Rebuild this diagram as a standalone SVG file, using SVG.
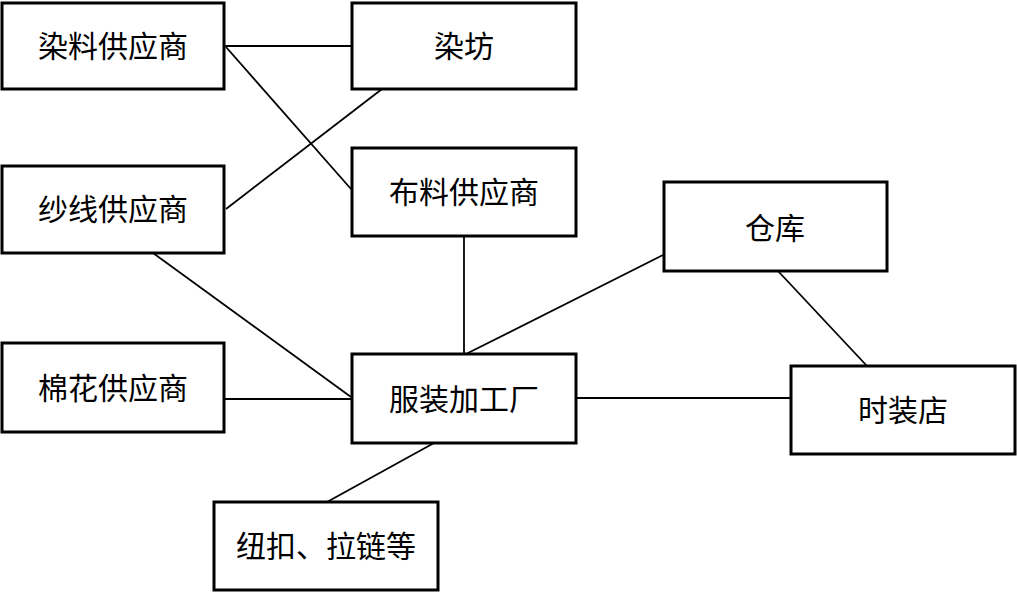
<svg xmlns="http://www.w3.org/2000/svg" width="1017" height="592" viewBox="0 0 1017 592">
<style>
.box{fill:#fff;stroke:#000;stroke-width:3}
.lbl{font-family:"Noto Sans CJK SC","Noto Sans CJK JP",sans-serif;font-size:30px;fill:#000;text-anchor:middle}
.conn line{stroke:#000;stroke-width:1.8}
</style>
<rect width="1017" height="592" fill="#fff"/>
<g id="connectors" class="conn">
<line x1="224" y1="46" x2="352" y2="46"/>
<line x1="226" y1="47" x2="351" y2="189"/>
<line x1="226" y1="209" x2="382" y2="89"/>
<line x1="464" y1="236" x2="464" y2="354"/>
<line x1="153" y1="253" x2="351" y2="397"/>
<line x1="224" y1="399" x2="352" y2="399"/>
<line x1="466" y1="354" x2="663" y2="255"/>
<line x1="778" y1="271" x2="867" y2="366"/>
<line x1="576" y1="398" x2="791" y2="398"/>
<line x1="434" y1="443" x2="327" y2="502"/>
</g>
<g id="n-ranliao"><rect class="box" x="2" y="3" width="222" height="86"/><text class="lbl" x="113" y="57">染料供应商</text></g>
<g id="n-ranfang"><rect class="box" x="352" y="3" width="224" height="86"/><text class="lbl" x="464" y="57">染坊</text></g>
<g id="n-shaxian"><rect class="box" x="2" y="166" width="222" height="87"/><text class="lbl" x="113" y="220">纱线供应商</text></g>
<g id="n-buliao"><rect class="box" x="352" y="148" width="224" height="88"/><text class="lbl" x="464" y="203">布料供应商</text></g>
<g id="n-cangku"><rect class="box" x="664" y="182" width="223" height="89"/><text class="lbl" x="775" y="239">仓库</text></g>
<g id="n-mianhua"><rect class="box" x="2" y="343" width="222" height="89"/><text class="lbl" x="113" y="399">棉花供应商</text></g>
<g id="n-fuzhuang"><rect class="box" x="352" y="354" width="224" height="89"/><text class="lbl" x="464" y="410">服装加工厂</text></g>
<g id="n-shizhuang"><rect class="box" x="791" y="366" width="224" height="88"/><text class="lbl" x="903" y="421">时装店</text></g>
<g id="n-niukou"><rect class="box" x="214" y="502" width="224" height="88"/><text class="lbl" x="326" y="557">纽扣、拉链等</text></g>
</svg>
